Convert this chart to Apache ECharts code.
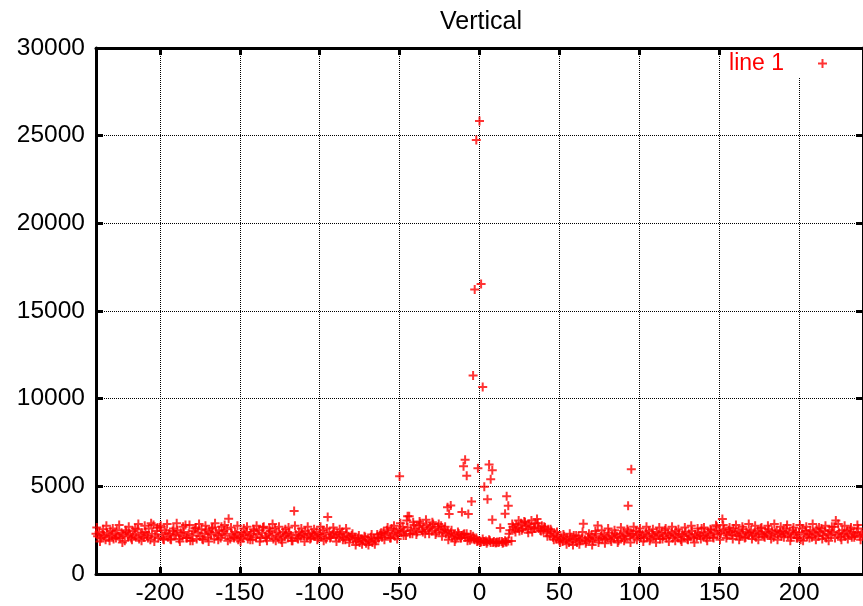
<!DOCTYPE html>
<html>
<head>
<meta charset="utf-8">
<title>Vertical</title>
<script src="https://cdn.jsdelivr.net/npm/echarts@6/dist/echarts.min.js"></script>
<style>
  html, body { margin: 0; padding: 0; background: #fff; }
  #chart { width: 863px; height: 606px; }
</style>
</head>
<body>
<div id="chart"></div>
<script>
// baseline samples, one per unit of x starting at firstX
const firstX = -240
const baseValues = [
  2300, 2150, 2400, 2050, 2250, 2200, 1950, 2350, 2100, 2450,
  2200, 2000, 2300, 2500, 2150, 2050, 2350, 2250, 1900, 2400,
  2150, 2300, 2050, 2450, 2200, 2100, 2550, 2000, 2250, 2350,
  2100, 2400, 2200, 2600, 1950, 2300, 2800, 2150, 2450, 2050,
  2650, 2250, 2000, 2500, 2350, 2100, 2300, 1950, 2450, 2200,
  2250, 2500, 2000, 2350, 2150, 2400, 2800, 2050, 2300, 1900,
  2200, 2450, 2600, 2000, 2350, 2150, 2550, 1950, 2300, 2500,
  2100, 2400, 2250, 2650, 2000, 2350, 2200, 2500, 2050, 2300,
  2450, 2200, 2550, 3150, 2000, 2300, 2100, 2400, 2250, 1950,
  2150, 2350, 2050, 2250, 2400, 2000, 2200, 2300, 1950, 2450,
  2100, 2250, 2500, 2050, 2350, 2700, 2150, 1900, 2300, 2450,
  2200, 2000, 2600, 2350, 2100, 2250, 1950, 2400, 2150, 2300,
  2050, 2350, 2200, 1900, 3600, 2250, 2050, 2400, 2150, 2300,
  2200, 2450, 2100, 2300, 2000, 2350, 2250, 2150, 2400, 2050,
  2300, 2150, 2500, 2250, 2000, 3250, 2350, 2100, 2250, 2400,
  2150, 2300, 2050, 2250, 2400, 2100, 1950, 2300, 2150, 2050,
  2200, 1950, 2100, 1850, 2050, 1800, 2000, 1900, 2150, 1750,
  1950, 1850, 2100, 1800, 2000, 1900, 2250, 2050, 2300, 2100,
  2400, 2200, 2500, 2300, 2050, 2600, 2350, 2150, 2450, 2250,
  2550, 2350, 2700, 2450, 2200, 2650, 3300, 2500, 2300, 2800,
  2600, 2400, 2750, 2900, 2500, 2650, 2300, 2800, 2550, 2700,
  2450, 2850, 2600, 2350, 2700, 2500, 2750, 2400, 2550, 2300,
  2450, 2200, 2350, 2100, 2250, 2000, 2150, 2300, 2050, 2200,
  2250, 2100, 2300, 2050, 1920, 2000, 2150, 1950, 2050, 1900,
  1900, 1840, 2000, 1850, 1880, 1840, 1950, 1800, 3100, 1850,
  1780, 1820, 1800, 2630, 1850, 1800, 1900, 1820, 1880, 2500,
  1880, 2700, 2550, 2800, 2650, 2450, 2900, 2600, 3000, 2750,
  2550, 2850, 2700, 2400, 2650, 2900, 3140, 2600, 2500, 2750,
  2450, 2650, 2350, 2550, 2200, 2450, 2100, 2300, 2000, 2150,
  1900, 2050, 1850, 2150, 1950, 2000, 1800, 2100, 1900, 2200,
  2000, 1800, 2150, 1900, 2050, 2870, 1950, 1850, 2100, 2000,
  2200, 1900, 2050, 2300, 2760, 1950, 2150, 2050, 2250, 2000,
  2100, 2350, 1950, 2200, 2050, 2300, 2150, 1900, 2250, 2100,
  2350, 2000, 2200, 2450, 2150, 2300, 2300, 2050, 2450, 2200,
  2400, 2100, 2250, 2050, 2350, 2150, 2450, 2000, 2300, 2200,
  2100, 2400, 2250, 2000, 2350, 2150, 2500, 2050, 2300, 2200,
  2350, 2050, 2200, 2450, 2100, 2300, 1950, 2250, 2150, 2400,
  2000, 2300, 2150, 2450, 2050, 2250, 2100, 2350, 2200, 2600,
  2150, 2300, 2050, 2400, 2200, 2500, 2100, 2350, 2780, 2250,
  2450, 2300, 3140, 2550, 2350, 2200, 2500, 2400, 2250, 2600,
  2350, 2200, 2450, 2150, 2300, 2550, 2050, 2400, 2250, 2350,
  2500, 2200, 2350, 2100, 2450, 2300, 2600, 2250, 2150, 2400,
  2300, 2550, 2200, 2450, 2100, 2350, 2500, 2250, 2400, 2150,
  2450, 2300, 2600, 2200, 2350, 2100, 2500, 2250, 2400, 2050,
  2350, 1950, 2600, 2250, 2450, 2150, 2300, 2500, 2100, 2400,
  2250, 2550, 2150, 2350, 2600, 2200, 2450, 2050, 2300, 2500,
  2200, 2400, 2700, 3050, 2250, 2350, 2100, 2500, 2300, 2150,
  2450, 2250, 2550, 2100, 2350, 2200, 2400, 2600, 2150, 2300,
  2250
]
// extra baseline samples, every second unit, offset by half a unit
const halfX = -239.5
const halfStep = 2
const halfValues = [
  2650, 1850, 2550, 2750, 1900, 2600, 2050, 2800, 1800, 2500,
  2700, 1950, 2600, 2850, 1900, 2750, 2050, 2900, 1850, 2650,
  2750, 1950, 2850, 2000, 2600, 2900, 1850, 2700, 2050, 2800,
  1900, 2650, 2850, 2000, 2750, 1850, 2600, 2900, 1950, 2700,
  2800, 1900, 2650, 2050, 2750, 1850, 2600, 2700, 1950, 2550,
  2750, 1850, 2650, 2050, 2600, 2850, 1900, 2700, 1800, 2550,
  2650, 1900, 2750, 2000, 2600, 1850, 2700, 2050, 2550, 1950,
  2700, 1900, 2600, 2050, 2650, 1850, 2550, 1950, 2600, 1800,
  2300, 1650, 2200, 1700, 2100, 1650, 2250, 1700, 2050, 2350,
  1950, 2650, 2050, 2750, 2000, 2900, 2200, 3050, 2300, 2950,
  2250, 3000, 2400, 3100, 2300, 2950, 2250, 2850, 2150, 2700,
  1950, 2500, 1850, 2400, 2050, 2300, 1900, 2250, 2000, 1850,
  1800, 1850, 1750, 1900, 1800, 1780, 1850, 1760, 1820, 2300,
  2850, 2400, 3050, 2500, 2950, 2350, 3050, 2600, 2900, 2450,
  2700, 2150, 2550, 1950, 2400, 1800, 2250, 1700, 2300, 1650,
  2200, 1700, 2400, 1750, 2300, 1650, 2450, 1800, 2500, 1750,
  2600, 1850, 2500, 1800, 2650, 1900, 2550, 1800, 2700, 1950,
  2600, 1850, 2700, 1900, 2550, 1800, 2650, 2000, 2600, 1850,
  2700, 1900, 2550, 1850, 2650, 1950, 2750, 1800, 2600, 2000,
  2650, 1900, 2550, 2050, 2700, 1950, 2800, 2050, 2650, 2000,
  2800, 1950, 2700, 2100, 2850, 2000, 2750, 1950, 2650, 2100,
  2750, 2000, 2850, 1950, 2700, 2100, 2800, 1900, 2650, 2050,
  2800, 1900, 2700, 2050, 2850, 1950, 2650, 2000, 2750, 1900,
  2700, 2050, 2850, 1950, 2750, 2000, 2650, 2100, 2800, 1950
]
// points off the baseline (the peak around 0 and a few outliers)
const spikeX = [-50, -45, -20, -19, -18, -11, -10, -9, -8, -7, -5, -4, -3, -2, -1,
  0, 1, 2, 3, 5, 6, 7, 8, 16, 17, 18, 93, 95]
const spikeY = [5580, 3290, 3800, 3420, 3910, 3530, 6150, 6520, 5600, 3420, 4130, 11320, 16220, 24750, 6030,
  25840, 16540, 10660, 4980, 4270, 6240, 5400, 5920, 3440, 4430, 3890, 3890, 5980]

const points = []
baseValues.forEach((v, i) => points.push([firstX + i, v]))
halfValues.forEach((v, i) => points.push([halfX + i * halfStep, v]))
spikeX.forEach((x, i) => points.push([x, spikeY[i]]))

const plus = 'path://M3.5,0H5.5V3.5H9V5.5H5.5V9H3.5V5.5H0V3.5H3.5Z'
const font = 'Liberation Sans, Arial, Helvetica, sans-serif'
const plain = v => String(v)

const frameLine = { onZero: false, lineStyle: { color: '#000', width: 3 } }
const frameTick = { show: true, inside: true, length: 7, lineStyle: { color: '#000', width: 3 } }
const dotted = { show: true, lineStyle: { color: '#000', width: 1, type: [1, 1] } }

const chart = echarts.init(document.getElementById('chart'))
const option = {
  animation: false,
  title: {
    text: 'Vertical',
    left: 435,
    top: 5,
    textStyle: { fontFamily: font, fontSize: 25, fontWeight: 'normal', color: '#000' }
  },
  legend: {
    right: 28,
    top: 50,
    padding: [2, 8, 2, 8],
    backgroundColor: '#fff',
    itemWidth: 9,
    itemHeight: 9,
    align: 'right',
    textStyle: { fontFamily: font, fontSize: 23, color: '#ff0000', padding: [0, 29, 0, 0] },
    data: ['line 1']
  },
  grid: { left: 96, right: -3, top: 48, bottom: 26 },
  xAxis: [
    {
      type: 'value',
      min: -240,
      max: 240,
      splitNumber: 10,
      axisLine: frameLine,
      axisTick: frameTick,
      axisLabel: { showMinLabel: false, showMaxLabel: false, margin: 7, color: '#000', fontFamily: font, fontSize: 24.5, formatter: plain },
      splitLine: dotted
    },
    {
      type: 'value',
      position: 'top',
      min: -240,
      max: 240,
      splitNumber: 10,
      axisLine: frameLine,
      axisTick: frameTick,
      axisLabel: { show: false },
      splitLine: { show: false }
    }
  ],
  yAxis: [
    {
      type: 'value',
      min: 0,
      max: 30000,
      interval: 5000,
      axisLine: Object.assign({ show: true }, frameLine),
      axisTick: frameTick,
      axisLabel: { margin: 11, color: '#000', fontFamily: font, fontSize: 24.5, formatter: plain },
      splitLine: dotted
    },
    {
      type: 'value',
      position: 'right',
      min: 0,
      max: 30000,
      interval: 5000,
      axisLine: Object.assign({ show: true }, frameLine),
      axisTick: frameTick,
      axisLabel: { show: false },
      splitLine: { show: false }
    }
  ],
  series: [
    {
      name: 'line 1',
      type: 'scatter',
      symbol: plus,
      symbolSize: 9,
      itemStyle: { color: '#ff0000' },
      data: points
    }
  ]
}
chart.setOption(option)
</script>
</body>
</html>
